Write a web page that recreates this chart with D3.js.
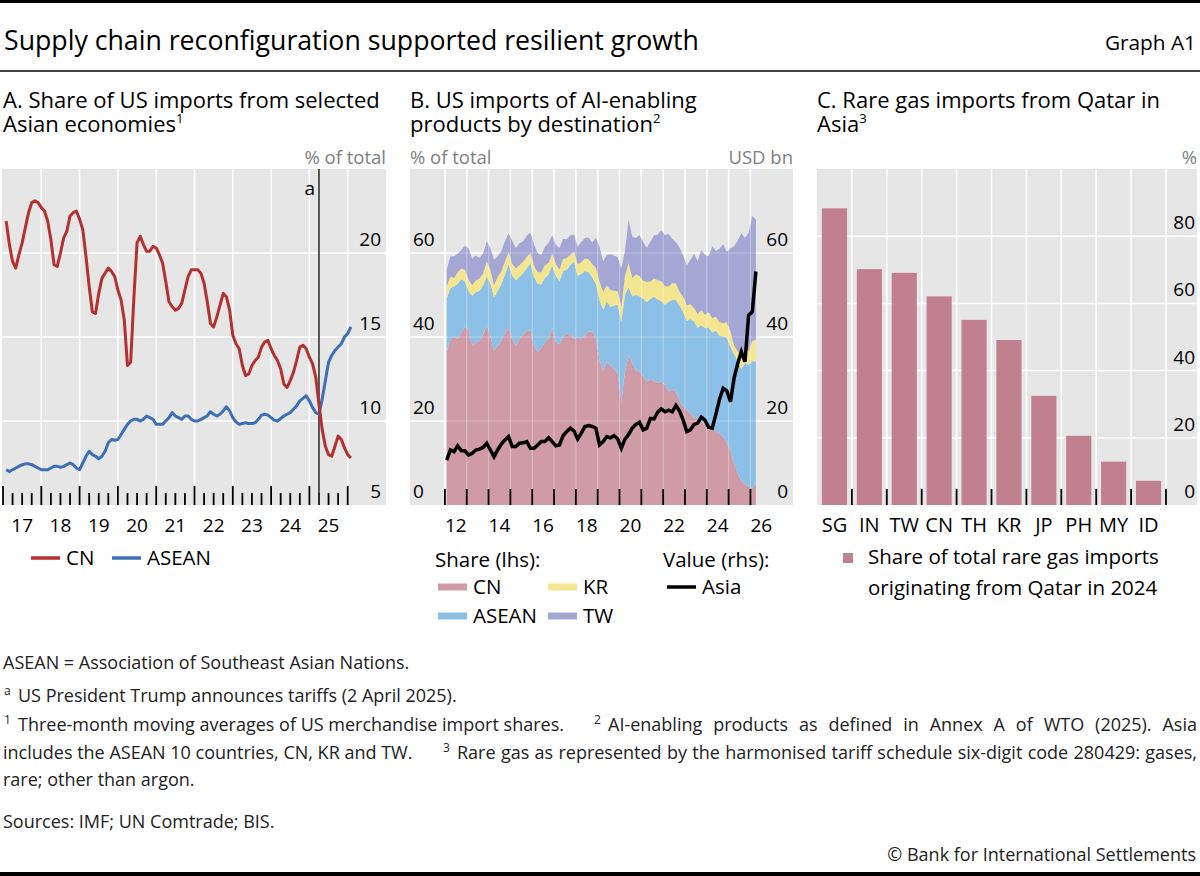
<!DOCTYPE html>
<html>
<head>
<meta charset="utf-8">
<script src="https://cdn.jsdelivr.net/npm/d3@7"></script>
<style>
  body { margin: 0; background: #fff; }
  svg { display: block; font-family: "Open Sans", sans-serif; }
</style>
</head>
<body>
<svg id="chart" width="1200" height="876"></svg>
<script>
// panel A: monthly shares, Jan 2017 onwards (% of total)
const cnShareA = [21.9, 20.5, 19.5, 19.1, 19.9, 20.6, 21.5, 22.4, 23.0, 23.1, 23.0, 22.7,
  22.5, 21.9, 20.8, 19.3, 19.2, 20.0, 20.9, 21.3, 22.2, 22.4, 22.5, 22.0,
  21.4, 19.8, 18.0, 16.5, 16.4, 17.6, 18.5, 18.8, 19.1, 18.9, 18.6, 17.8,
  17.2, 16.0, 13.3, 13.5, 17.3, 20.6, 21.0, 20.5, 20.1, 20.1, 20.4, 20.3,
  19.9, 19.4, 18.3, 17.1, 16.8, 16.6, 16.7, 17.0, 17.8, 18.6, 19.0, 19.0,
  19.0, 18.8, 18.2, 17.1, 15.8, 15.6, 16.2, 16.9, 17.6, 17.4, 16.6, 15.1,
  14.6, 14.3, 13.3, 12.7, 12.8, 13.3, 13.6, 13.8, 14.4, 14.7, 14.8, 14.3,
  13.9, 13.6, 13.1, 12.2, 12.0, 12.4, 12.9, 13.6, 14.4, 14.5, 14.3, 13.8,
  13.4, 12.6, 11.0, 9.5, 8.5, 8.0, 7.9, 8.5, 9.1, 8.9, 8.4, 8.0,
  7.8]
const aseanShareA = [7.1, 7.0, 7.1, 7.2, 7.3, 7.4, 7.45, 7.45, 7.4, 7.3, 7.2, 7.1,
  7.1, 7.1, 7.2, 7.3, 7.3, 7.25, 7.3, 7.4, 7.5, 7.4, 7.2, 7.1,
  7.5, 7.9, 8.2, 8.0, 7.9, 7.75, 7.9, 8.2, 8.7, 8.9, 8.85, 8.9,
  9.2, 9.5, 9.8, 10.0, 10.1, 10.1, 10.0, 10.1, 10.3, 10.2, 10.1, 9.8,
  9.8, 9.8, 10.0, 10.2, 10.5, 10.3, 10.2, 10.1, 10.3, 10.3, 10.1, 10.0,
  10.0, 10.1, 10.2, 10.3, 10.55, 10.4, 10.3, 10.4, 10.6, 10.85, 10.6, 10.2,
  9.95, 9.8, 9.85, 9.9, 9.85, 9.85, 9.9, 10.1, 10.35, 10.4, 10.35, 10.2,
  10.05, 10.0, 10.15, 10.3, 10.4, 10.5, 10.7, 10.9, 11.2, 11.35, 11.5, 11.2,
  10.8, 10.5, 10.4, 11.3, 12.4, 13.5, 13.9, 14.2, 14.4, 14.6, 15.0, 15.2,
  15.6]
const startA = 2017
const tariffDate = 2025.25
const yTicksA = [5, 10, 15, 20]

// panel B: bimonthly, Jan 2012 onwards; shares in %, Asia in USD bn
const cnB = [36.5, 39.3, 40.1, 39.5, 40.9, 42.5, 41.7, 38.1, 38.7, 39.1,
  40.5, 42.9, 40.3, 36.7, 37.9, 39.1, 40.9, 42.3, 39.5, 37.9,
  39.5, 40.5, 41.4, 41.7, 37.9, 36.4, 37.5, 38.7, 39.5, 42.1,
  38.7, 38.3, 40.1, 40.9, 40.5, 39.5, 39.9, 39.4, 40.3, 41.3,
  41.3, 39.7, 34.5, 31.8, 34.1, 33.3, 32.4, 31.4, 24.6, 31.8,
  35.6, 33.7, 32.1, 31.8, 30.6, 29.4, 30.0, 29.4, 29.1, 29.4,
  28.6, 27.0, 27.4, 27.0, 24.8, 23.4, 22.6, 21.7, 20.8, 20.6,
  19.8, 19.1, 18.6, 18.2, 17.4, 17.0, 16.3, 14.8, 13.1, 9.9,
  7.5, 5.7, 4.8, 4.4, 4.0, 4.8]
const aseanB = [12.7, 12.3, 11.9, 13.1, 12.9, 10.7, 9.3, 11.7, 12.0, 11.9,
  11.7, 11.5, 12.5, 12.7, 13.0, 13.5, 13.9, 15.1, 15.1, 15.6,
  14.8, 14.7, 14.9, 15.9, 16.4, 16.3, 15.0, 15.4, 15.3, 14.9,
  15.9, 14.9, 15.7, 15.1, 16.7, 18.4, 14.7, 15.6, 15.4, 14.1,
  12.9, 12.9, 14.3, 14.7, 14.4, 13.9, 15.1, 16.3, 19.0, 18.3,
  16.2, 16.0, 17.9, 17.9, 18.5, 18.9, 19.1, 20.2, 19.8, 19.1,
  19.1, 21.4, 21.4, 21.8, 22.7, 22.6, 21.2, 22.6, 22.9, 21.6,
  23.0, 23.0, 23.7, 22.9, 24.1, 23.3, 23.8, 25.0, 24.6, 26.0,
  26.8, 26.7, 29.0, 29.0, 30.2, 29.4]
const krB = [2.8, 2.8, 2.0, 2.8, 2.5, 2.8, 2.6, 2.5, 2.7, 2.9,
  2.9, 3.6, 3.2, 2.9, 3.4, 3.0, 3.2, 2.8, 2.8, 2.8,
  2.8, 2.8, 2.8, 2.4, 2.6, 2.8, 2.9, 3.0, 2.8, 2.8,
  2.8, 2.8, 2.8, 2.8, 2.4, 2.4, 2.7, 2.8, 3.0, 3.1,
  3.2, 3.9, 4.4, 4.2, 3.8, 4.0, 3.5, 3.2, 3.6, 4.4,
  5.8, 4.4, 4.9, 4.8, 4.3, 4.8, 4.1, 4.3, 4.6, 4.8,
  4.4, 3.6, 4.0, 4.0, 3.3, 3.6, 3.7, 3.5, 3.2, 3.2,
  3.6, 3.2, 3.6, 3.4, 3.3, 3.2, 3.2, 3.7, 3.6, 2.0,
  2.3, 2.7, 3.6, 3.2, 4.8, 5.2]
const twB = [4.0, 4.8, 5.2, 4.4, 4.4, 5.8, 7.5, 6.4, 6.0, 4.9,
  4.8, 4.8, 5.2, 6.1, 5.0, 4.8, 4.8, 4.5, 5.5, 4.9,
  5.2, 4.8, 5.0, 4.8, 5.1, 4.5, 4.1, 4.4, 4.8, 4.4,
  4.5, 5.2, 4.8, 4.5, 4.6, 4.1, 4.2, 4.8, 4.9, 5.2,
  5.1, 7.1, 8.3, 7.3, 7.2, 8.5, 8.4, 8.1, 9.1, 6.0,
  10.3, 9.8, 8.7, 9.8, 9.2, 8.1, 9.5, 10.3, 10.9, 12.1,
  12.1, 12.5, 10.6, 9.8, 10.5, 9.8, 9.5, 10.6, 12.9, 12.7,
  14.3, 14.3, 13.3, 17.1, 15.7, 17.6, 18.8, 16.8, 19.8, 23.7,
  26.4, 29.6, 26.2, 28.2, 29.8, 28.6]
const asiaB = [10.7, 13.1, 12.7, 14.1, 12.9, 12.9, 11.9, 12.3, 13.1, 13.3,
  13.7, 14.7, 13.1, 11.5, 13.1, 14.5, 15.5, 16.3, 13.9, 13.9,
  14.7, 14.8, 15.1, 13.5, 13.5, 14.3, 15.1, 15.1, 16.0, 15.1,
  14.1, 14.3, 16.5, 17.5, 18.3, 17.6, 15.7, 17.1, 18.7, 18.9,
  18.7, 18.3, 14.3, 15.1, 16.3, 16.0, 16.5, 15.7, 13.5, 15.7,
  16.8, 18.3, 19.2, 19.7, 17.9, 18.3, 20.6, 20.5, 22.1, 22.9,
  22.2, 22.6, 22.2, 23.7, 22.4, 20.2, 17.5, 17.9, 19.2, 19.5,
  20.9, 20.2, 18.5, 18.3, 21.6, 25.2, 27.8, 27.2, 24.6, 30.2,
  33.7, 36.5, 34.1, 45.2, 46.0, 55.6]
const startB = 2012
const yearTicksB = d3.range(2012, 2027)
const yTicksB = [0, 20, 40, 60]

// panel C
const countriesC = ['SG', 'IN', 'TW', 'CN', 'TH', 'KR', 'JP', 'PH', 'MY', 'ID']
const qatarShareC = [88.3, 70.2, 69.1, 62.1, 55.1, 49.1, 32.5, 20.6, 12.9, 7.2]
const yTicksC = [0, 20, 40, 60, 80]

const svg = d3.select('#chart')
const plotTop = 169
const plotBottom = 505
const bg = '#e6e6e6'
const tickFont = 19
const keyFont = 20.5

// frame
svg.append('rect').attr('x', 0).attr('y', 0).attr('width', 1200).attr('height', 3).attr('fill', '#000')
svg.append('rect').attr('x', 0).attr('y', 872).attr('width', 1200).attr('height', 4).attr('fill', '#000')
svg.append('line').attr('x1', 0).attr('x2', 1200).attr('y1', 71).attr('y2', 71)
  .attr('stroke', '#000').attr('stroke-width', 1.5)
svg.append('text').attr('x', 4).attr('y', 50).attr('font-size', 26.7)
  .text('Supply chain reconfiguration supported resilient growth')
svg.append('text').attr('x', 1196).attr('y', 50).attr('font-size', 20.8).attr('text-anchor', 'end')
  .text('Graph A1')

function titleLines (x, lines, sup) {
  let t = svg.append('text').attr('x', x).attr('y', 108).attr('font-size', 22)
  t.append('tspan').attr('x', x).text(lines[0])
  t.append('tspan').attr('x', x).attr('dy', 24).text(lines[1])
  t.append('tspan').attr('font-size', 13).attr('dy', -9).text(sup)
}
titleLines(3, ['A. Share of US imports from selected', 'Asian economies'], '1')
titleLines(410, ['B. US imports of AI-enabling', 'products by destination'], '2')
titleLines(817, ['C. Rare gas imports from Qatar in', 'Asia'], '3')

function unit (x, anchor, s) {
  svg.append('text').attr('x', x).attr('y', 164).attr('font-size', 18.5)
    .attr('fill', '#808080').attr('text-anchor', anchor).text(s)
}
unit(386, 'end', '% of total')
unit(410, 'start', '% of total')
unit(793, 'end', 'USD bn')
unit(1197, 'end', '%')

function vline (g, x, y1, y2, col, w, op) {
  g.append('line').attr('x1', x).attr('x2', x).attr('y1', y1).attr('y2', y2)
    .attr('stroke', col).attr('stroke-width', w).attr('stroke-opacity', op || 1)
}
function hline (g, y, x1, x2, col, w) {
  g.append('line').attr('x1', x1).attr('x2', x2).attr('y1', y).attr('y2', y)
    .attr('stroke', col).attr('stroke-width', w)
}

// ---------- panel A ----------
const xA = d3.scaleLinear().domain([2017, 2027]).range([3, 386])
const yA = d3.scaleLinear().domain([5, 25]).range([plotBottom, plotTop])
const gA = svg.append('g')
gA.append('rect').attr('x', 2).attr('y', plotTop).attr('width', 384).attr('height', plotBottom - plotTop).attr('fill', bg)
d3.range(2018, 2027).forEach(y => vline(gA, xA(y), plotTop, plotBottom, '#fff', 1.5))
yTicksA.slice(1).forEach(v => hline(gA, yA(v), 2, 386, '#fff', 1.5))
d3.range(2017, 2026.01, 0.25).forEach(q => {
  let major = Math.abs(q - Math.round(q)) < 1e-6
  vline(gA, xA(q), plotBottom - (major ? 19 : 12), plotBottom, '#000', 1.8)
})
vline(gA, xA(tariffDate), plotTop, plotBottom, '#333', 1.6)
gA.append('text').attr('x', xA(tariffDate) - 4).attr('y', 195).attr('font-size', 19)
  .attr('text-anchor', 'end').text('a')
const lineA = d3.line().x((d, i) => xA(startA + (i + 1) / 12)).y(d => yA(d))
gA.append('path').datum(aseanShareA).attr('d', lineA).attr('fill', 'none')
  .attr('stroke', '#3d6fb6').attr('stroke-width', 3).attr('stroke-linejoin', 'round')
gA.append('path').datum(cnShareA).attr('d', lineA).attr('fill', 'none')
  .attr('stroke', '#b3312f').attr('stroke-width', 3).attr('stroke-linejoin', 'round')
yTicksA.forEach(v => {
  gA.append('text').attr('x', 381).attr('y', yA(v) - 7).attr('font-size', tickFont)
    .attr('text-anchor', 'end').text(v)
})
d3.range(2017, 2026).forEach(y => {
  gA.append('text').attr('x', xA(y + 0.5)).attr('y', 532).attr('font-size', tickFont)
    .attr('text-anchor', 'middle').text(String(y).slice(2))
})
// legend A
function lineKey (g, x, y, col, w, label) {
  hline(g, y, x, x + 29, col, w)
  g.append('text').attr('x', x + 35).attr('y', y + 7).attr('font-size', keyFont).text(label)
}
lineKey(gA, 31, 558, '#b3312f', 3.5, 'CN')
lineKey(gA, 112, 558, '#3d6fb6', 3.5, 'ASEAN')

// ---------- panel B ----------
const xB = d3.scaleLinear().domain([2010.4, 2027.95]).range([410, 793])
const yB = d3.scaleLinear().domain([0, 80]).range([plotBottom, plotTop])
const gB = svg.append('g')
gB.append('rect').attr('x', 410).attr('y', plotTop).attr('width', 383).attr('height', plotBottom - plotTop).attr('fill', bg)
yearTicksB.forEach(y => vline(gB, xB(y), plotTop, plotBottom, '#fff', 1.5))
yTicksB.slice(1).forEach(v => hline(gB, yB(v), 410, 793, '#fff', 1.5))

const keysB = ['CN', 'ASEAN', 'KR', 'TW']
const colB = { CN: '#cf9ba7', ASEAN: '#8dc0e7', KR: '#f4e690', TW: '#a4a7d4' }
const rowsB = cnB.map((d, i) => ({
  t: startB + (2 * i + 1) / 12, CN: d, ASEAN: aseanB[i], KR: krB[i], TW: twB[i]
}))
const stackB = d3.stack().keys(keysB)(rowsB)
const areaB = d3.area().x(d => xB(d.data.t)).y0(d => yB(d[0])).y1(d => yB(d[1]))
gB.selectAll('path.layer').data(stackB).enter().append('path')
  .attr('class', 'layer').attr('d', areaB).attr('fill', d => colB[d.key])
// faint grid showing through the areas
yearTicksB.forEach(y => vline(gB, xB(y), plotTop, plotBottom, '#fff', 1.2, 0.3))
yTicksB.slice(1).forEach(v => hline(gB, yB(v), 410, 793, 'rgba(255,255,255,0.3)', 1.2))

const lineB = d3.line().x((d, i) => xB(startB + (2 * i + 1) / 12)).y(d => yB(d))
gB.append('path').datum(asiaB).attr('d', lineB).attr('fill', 'none')
  .attr('stroke', '#000').attr('stroke-width', 3.5).attr('stroke-linejoin', 'miter')
yearTicksB.forEach(y => vline(gB, xB(y), plotBottom - 16, plotBottom, '#000', 1.8))
yTicksB.forEach(v => {
  gB.append('text').attr('x', 413).attr('y', yB(v) - 7).attr('font-size', tickFont).text(v)
  gB.append('text').attr('x', 788).attr('y', yB(v) - 7).attr('font-size', tickFont)
    .attr('text-anchor', 'end').text(v)
})
d3.range(2012, 2027, 2).forEach(y => {
  gB.append('text').attr('x', xB(y + 0.5)).attr('y', 532).attr('font-size', tickFont)
    .attr('text-anchor', 'middle').text(String(y).slice(2))
})
// legend B
gB.append('text').attr('x', 435).attr('y', 567).attr('font-size', keyFont).text('Share (lhs):')
gB.append('text').attr('x', 663).attr('y', 567).attr('font-size', keyFont).text('Value (rhs):')
lineKey(gB, 438, 587, colB.CN, 7, 'CN')
lineKey(gB, 548, 587, colB.KR, 7, 'KR')
lineKey(gB, 438, 616, colB.ASEAN, 7, 'ASEAN')
lineKey(gB, 548, 616, colB.TW, 7, 'TW')
lineKey(gB, 667, 587, '#000', 3.5, 'Asia')

// ---------- panel C ----------
const xC = d3.scaleBand().domain(countriesC).range([817, 1166]).paddingInner(0.28).paddingOuter(0.14)
const yC = d3.scaleLinear().domain([0, 100]).range([plotBottom, plotTop])
const gC = svg.append('g')
gC.append('rect').attr('x', 817).attr('y', plotTop).attr('width', 380).attr('height', plotBottom - plotTop).attr('fill', bg)
const edgesC = countriesC.map(c => xC(c) + xC.bandwidth() + xC.step() * xC.paddingInner() / 2)
edgesC.forEach(x => vline(gC, x, plotTop, plotBottom, '#fff', 1.5))
yTicksC.slice(1).forEach(v => hline(gC, yC(v), 817, 1197, '#fff', 1.5))
gC.selectAll('rect.bar').data(qatarShareC).enter().append('rect').attr('class', 'bar')
  .attr('x', (d, i) => xC(countriesC[i])).attr('width', xC.bandwidth())
  .attr('y', d => yC(d)).attr('height', d => yC(0) - yC(d)).attr('fill', '#c0808f')
edgesC.forEach(x => vline(gC, x, plotBottom - 16, plotBottom, '#000', 1.8))
yTicksC.forEach(v => {
  gC.append('text').attr('x', 1195).attr('y', yC(v) - 7).attr('font-size', tickFont)
    .attr('text-anchor', 'end').text(v)
})
countriesC.forEach(c => {
  gC.append('text').attr('x', xC(c) + xC.bandwidth() / 2).attr('y', 532).attr('font-size', 20)
    .attr('text-anchor', 'middle').text(c)
})
gC.append('rect').attr('x', 843).attr('y', 553).attr('width', 10).attr('height', 10).attr('fill', '#c0808f')
gC.append('text').attr('x', 868).attr('y', 564).attr('font-size', keyFont).text('Share of total rare gas imports')
gC.append('text').attr('x', 868).attr('y', 595).attr('font-size', keyFont).text('originating from Qatar in 2024')

// ---------- notes ----------
const gN = svg.append('g').attr('font-size', 18).attr('fill', '#222')
function note (x, y, s, sup, rightEdge) {
  if (sup) gN.append('text').attr('x', x).attr('y', y - 7).attr('font-size', 12).text(sup)
  let t = gN.append('text').attr('x', sup ? x + 14 : x).attr('y', y).text(s)
  // justified lines: stretch word gaps to reach the right margin
  if (rightEdge) {
    let gap = rightEdge - (sup ? x + 14 : x) - t.node().getComputedTextLength()
    let spaces = s.split(' ').length - 1
    if (gap > 0 && spaces) t.attr('word-spacing', gap / spaces)
  }
}
note(3, 669, 'ASEAN = Association of Southeast Asian Nations.')
note(4, 702, 'US President Trump announces tariffs (2 April 2025).', 'a')
note(4, 731, 'Three-month moving averages of US merchandise import shares.', '1')
note(594, 731, 'AI-enabling products as defined in Annex A of WTO (2025). Asia', '2', 1197)
note(3, 759, 'includes the ASEAN 10 countries, CN, KR and TW.')
note(443, 759, 'Rare gas as represented by the harmonised tariff schedule six-digit code 280429: gases,', '3', 1197)
note(3, 786, 'rare; other than argon.')
note(3, 828, 'Sources: IMF; UN Comtrade; BIS.')
gN.append('text').attr('x', 1196).attr('y', 861).attr('text-anchor', 'end').text('© Bank for International Settlements')
</script>
</body>
</html>
